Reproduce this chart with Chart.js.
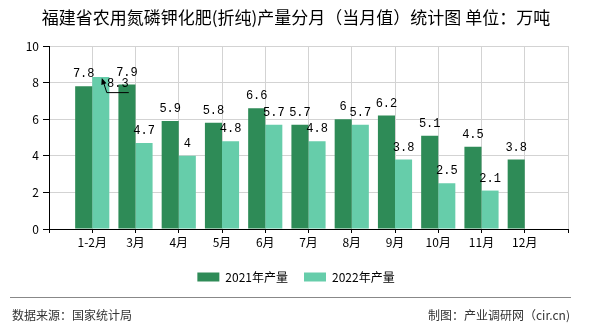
<!DOCTYPE html>
<html>
<head>
<meta charset="utf-8">
<script src="https://cdn.jsdelivr.net/npm/chart.js@4/dist/chart.umd.min.js"></script>
<style>
  html, body { margin: 0; padding: 0; background: #fff; }
  #wrap { position: relative; width: 590px; height: 330px; overflow: hidden; }
  #c { position: absolute; left: 0; top: 0; }
  .rule { position: absolute; left: 10px; top: 297px; width: 561px; height: 0; border-top: 1px solid #888; }
  .foot { position: absolute; top: 306px; font: 12px "Noto Sans CJK SC", sans-serif; color: #333; line-height: 18px; white-space: nowrap; }
</style>
</head>
<body>
<div id="wrap">
  <canvas id="c" width="590" height="330"></canvas>
  <div class="rule"></div>
  <div class="foot" style="left:12px;">数据来源：国家统计局</div>
  <div class="foot" style="right:20px;">制图：产业调研网（cir.cn)</div>
</div>
<script>
const categories = ['1-2月', '3月', '4月', '5月', '6月', '7月', '8月', '9月', '10月', '11月', '12月'];
const series2021 = [7.8, 7.9, 5.9, 5.8, 6.6, 5.7, 6, 6.2, 5.1, 4.5, 3.8];
const series2022 = [8.3, 4.7, 4, 4.8, 5.7, 4.8, 5.7, 3.8, 2.5, 2.1, null];
const seriesNames = ['2021年产量', '2022年产量'];
const yTicks = [0, 2, 4, 6, 8, 10];

// padded category axis: an empty slot on each side of the months
const axisLabels = [''].concat(categories, ['']);
const pad = arr => [null].concat(arr.map(v => (v === undefined ? null : v)), [null]);

// labels drawn with a leader arrow: [datasetIndex, categoryIndex]
const calloutLabels = [[1, 0]];

const CJK = '"Noto Sans CJK SC", sans-serif';

const valueLabels = {
  id: 'valueLabels',
  afterDatasetsDraw(chart) {
    const ctx = chart.ctx;
    ctx.save();
    ctx.font = '12px "Liberation Mono", monospace';
    ctx.fillStyle = '#000';
    ctx.textAlign = 'center';
    ctx.textBaseline = 'middle';
    chart.data.datasets.forEach((ds, di) => {
      const meta = chart.getDatasetMeta(di);
      meta.data.forEach((bar, i) => {
        const v = ds.data[i];
        if (v === null || v === undefined) return;
        const text = String(v);
        const isCallout = calloutLabels.some(c => c[0] === di && c[1] === i - 1);
        if (isCallout) {
          const tx = bar.x + 17, ty = bar.y + 7;
          ctx.fillText(text, tx, ty);
          ctx.strokeStyle = '#000';
          ctx.lineWidth = 1;
          ctx.beginPath();
          ctx.moveTo(bar.x + 28, bar.y + 15.5);
          ctx.lineTo(bar.x + 6, bar.y + 15.5);
          ctx.lineTo(bar.x + 2, bar.y + 3);
          ctx.stroke();
          // arrow head
          const hx = bar.x + 1, hy = bar.y + 1;
          const ang = Math.atan2(hy - (bar.y + 15.5), hx - (bar.x + 6));
          ctx.beginPath();
          ctx.moveTo(hx, hy);
          ctx.lineTo(hx - 7 * Math.cos(ang - 0.4), hy - 7 * Math.sin(ang - 0.4));
          ctx.lineTo(hx - 7 * Math.cos(ang + 0.4), hy - 7 * Math.sin(ang + 0.4));
          ctx.closePath();
          ctx.fillStyle = '#000';
          ctx.fill();
        } else {
          ctx.fillText(text, bar.x, bar.y - 12);
        }
      });
    });
    ctx.restore();
  }
};

new Chart(document.getElementById('c'), {
  type: 'bar',
  data: {
    labels: axisLabels,
    datasets: [
      { label: seriesNames[0], data: pad(series2021), backgroundColor: '#2e8b57', borderWidth: 0 },
      { label: seriesNames[1], data: pad(series2022), backgroundColor: '#66cdaa', borderWidth: 0 }
    ]
  },
  options: {
    responsive: false,
    animation: false,
    events: [],
    layout: { padding: { left: 24, right: 22, top: 0, bottom: 37 } },
    datasets: { bar: { categoryPercentage: 0.79, barPercentage: 1 } },
    plugins: {
      tooltip: { enabled: false },
      title: {
        display: true,
        text: '福建省农用氮磷钾化肥(折纯)产量分月（当月值）统计图 单位：万吨',
        color: '#000',
        font: { family: CJK, size: 17, weight: 'normal', lineHeight: 1.2 },
        padding: { top: 7, bottom: 18.6 }
      },
      legend: {
        position: 'bottom',
        labels: {
          boxWidth: 22,
          boxHeight: 9,
          padding: 16,
          color: '#000',
          font: { family: CJK, size: 12 }
        }
      }
    },
    scales: {
      x: {
        offset: false,
        afterFit(s) { s.height = 26; },
        grid: { offset: false, color: '#d3d3d3', tickColor: '#000', tickLength: 4, drawTicks: true },
        border: { color: '#000', width: 1 },
        ticks: { color: '#000', font: { family: CJK, size: 12 }, padding: 2, maxRotation: 0, autoSkip: false }
      },
      y: {
        min: 0,
        max: 10,
        afterFit(s) { s.width = 25; },
        afterBuildTicks(s) { s.ticks = yTicks.map(v => ({ value: v })); },
        grid: { color: '#d3d3d3', tickColor: '#000', tickLength: 6 },
        border: { color: '#000', width: 1 },
        ticks: { color: '#000', font: { family: CJK, size: 12 }, padding: 4 }
      }
    }
  },
  plugins: [valueLabels]
});
</script>
</body>
</html>
